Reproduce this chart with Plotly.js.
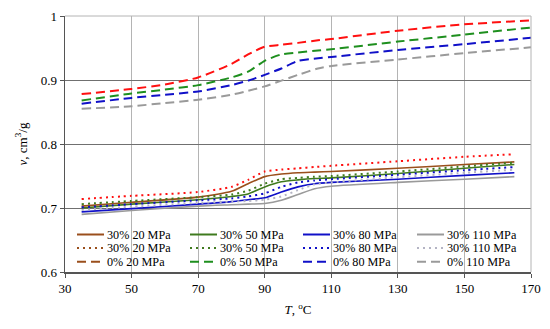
<!DOCTYPE html>
<html>
<head>
<meta charset="utf-8">
<script src="https://cdn.plot.ly/plotly-3.0.1.min.js"></script>
<style>html,body{margin:0;padding:0;background:#fff;}#chart{width:550px;height:329px;}</style>
</head>
<body>
<div id="chart"></div>
<script>
// ---- data ----
const T_low = [35, 50, 70, 80, 85, 90, 95, 100, 105, 110, 130, 150, 165];
const solid20  = [0.703, 0.709, 0.717, 0.726, 0.738, 0.749, 0.753, 0.755, 0.756, 0.757, 0.762, 0.768, 0.772];
const solid50  = [0.700, 0.706, 0.713, 0.718, 0.722, 0.733, 0.741, 0.744, 0.746, 0.747, 0.754, 0.762, 0.768];
const solid80  = [0.694, 0.699, 0.706, 0.710, 0.713, 0.716, 0.725, 0.733, 0.738, 0.740, 0.745, 0.751, 0.755];
const solid110 = [0.690, 0.696, 0.703, 0.705, 0.706, 0.707, 0.712, 0.721, 0.730, 0.734, 0.740, 0.745, 0.749];
const dot20    = [0.714, 0.719, 0.725, 0.733, 0.744, 0.757, 0.760, 0.762, 0.764, 0.766, 0.773, 0.780, 0.784];
const dot50    = [0.706, 0.711, 0.717, 0.721, 0.727, 0.738, 0.745, 0.747, 0.749, 0.750, 0.757, 0.765, 0.771];
const dot80    = [0.701, 0.706, 0.712, 0.715, 0.718, 0.723, 0.733, 0.740, 0.743, 0.745, 0.752, 0.759, 0.764];
const dot110   = [0.697, 0.702, 0.708, 0.710, 0.711, 0.713, 0.718, 0.728, 0.737, 0.740, 0.748, 0.755, 0.760];

const T_high = [35, 50, 60, 70, 80, 85, 90, 95, 100, 106, 110, 130, 150, 170];
const dash20  = [0.878, 0.886, 0.893, 0.904, 0.925, 0.940, 0.952, 0.955, 0.958, 0.962, 0.964, 0.977, 0.987, 0.993];
const dash50  = [0.868, 0.879, 0.885, 0.892, 0.904, 0.913, 0.930, 0.940, 0.943, 0.946, 0.948, 0.960, 0.971, 0.982];
const dash80  = [0.863, 0.872, 0.877, 0.882, 0.892, 0.899, 0.908, 0.918, 0.930, 0.934, 0.936, 0.947, 0.956, 0.966];
const dash110 = [0.855, 0.859, 0.864, 0.869, 0.877, 0.883, 0.890, 0.899, 0.908, 0.918, 0.922, 0.932, 0.942, 0.951];

const names = ['30% 20 MPa','30% 50 MPa','30% 80 MPa','30% 110 MPa',
               '30% 20 MPa','30% 50 MPa','30% 80 MPa','30% 110 MPa',
               '0% 20 MPa','0% 50 MPa','0% 80 MPa','0% 110 MPa'];

const brown = '#9a4f1c', green = '#3f7a1e', dgreen = '#1e8f1e', blue = '#1010c8', gray = '#9a9a9a', red = '#ff1010', lgray = '#b4b4c4';
const DASH = '9px,5px', DOT = '2px,4px';

// legend appearance (colour, dash) per entry, row-major
const legStyle = [
  [brown, 'solid'], [green, 'solid'], [blue, 'solid'], [gray, 'solid'],
  [brown, DOT], [green, DOT], [blue, DOT], [lgray, DOT],
  [brown, DASH], [dgreen, DASH], [blue, DASH], [gray, DASH]
];

function tr(x, y, name, color, dash, width) {
  return {x: x, y: y, name: name, type: 'scatter', mode: 'lines',
          line: {color: color, dash: dash, width: width, shape: 'spline', smoothing: 0.6},
          showlegend: false};
}

const data = [
  tr(T_low, solid110, names[3], gray, 'solid', 1.6),
  tr(T_low, solid80,  names[2], blue, 'solid', 1.6),
  tr(T_low, solid50,  names[1], green, 'solid', 1.6),
  tr(T_low, solid20,  names[0], brown, 'solid', 1.6),
  tr(T_low, dot110, names[7], lgray, DOT, 2),
  tr(T_low, dot80,  names[6], blue, DOT, 2),
  tr(T_low, dot50,  names[5], green, DOT, 2),
  tr(T_low, dot20,  names[4], red, DOT, 2),
  tr(T_high, dash110, names[11], gray, DASH, 2),
  tr(T_high, dash80,  names[10], blue, DASH, 2),
  tr(T_high, dash50,  names[9], dgreen, DASH, 2),
  tr(T_high, dash20,  names[8], red, DASH, 2)
];

const FAM = 'Liberation Serif, Times New Roman, serif';
const font = {family: FAM, size: 13, color: '#000'};
const legFont = {family: FAM, size: 12.2, color: '#000'};

// plot area geometry in pixels
const L = 65, R = 19, TOP = 16, B = 57, W = 550, H = 329;
const PW = W - L - R, PH = H - TOP - B;
const px = v => (v - L) / PW;
const py = v => (H - B - v) / PH;

const shapes = [
  {type: 'line', xref: 'paper', yref: 'paper', x0: 0, x1: 1, y0: 1, y1: 1, line: {color: '#b4b4b4', width: 1}},
  {type: 'line', xref: 'paper', yref: 'paper', x0: 1, x1: 1, y0: 0, y1: 1, line: {color: '#b4b4b4', width: 1}},
  {type: 'rect', xref: 'paper', yref: 'paper', x0: px(68), x1: px(530), y0: py(270), y1: py(225),
   fillcolor: '#fff', line: {width: 0}, layer: 'below'}
];
const annotations = [];
const colX = [77, 190, 303, 417];
const rowY = [234.5, 248.1, 261.7];
for (let i = 0; i < names.length; i++) {
  const c = i % 4, r = Math.floor(i / 4);
  shapes.push({type: 'line', xref: 'paper', yref: 'paper',
    x0: px(colX[c]), x1: px(colX[c] + 27), y0: py(rowY[r]), y1: py(rowY[r]),
    line: {color: legStyle[i][0], dash: legStyle[i][1], width: 2}});
  annotations.push({xref: 'paper', yref: 'paper', x: px(colX[c] + 30), y: py(rowY[r]),
    xanchor: 'left', yanchor: 'middle', showarrow: false, text: names[i], font: legFont,
    borderpad: 0, borderwidth: 0});
}

const layout = {
  width: W, height: H,
  margin: {l: L, r: R, t: TOP, b: B, pad: 0},
  paper_bgcolor: '#fff', plot_bgcolor: '#fff',
  font: font,
  showlegend: false,
  xaxis: {
    range: [30, 170], dtick: 20, tick0: 30,
    showgrid: true, gridcolor: '#b4b4b4', gridwidth: 1,
    zeroline: false, showline: true, linecolor: '#555', linewidth: 1.5,
    ticks: 'outside', ticklen: 4, tickcolor: '#555',
    tickfont: font,
    title: {text: '<i>T</i>, <sup>o</sup>C', font: font, standoff: 10}
  },
  yaxis: {
    range: [0.6, 1.0], dtick: 0.1, tick0: 0.6,
    showgrid: true, gridcolor: '#707070', gridwidth: 1,
    zeroline: false, showline: true, linecolor: '#555', linewidth: 1.5,
    ticks: 'outside', ticklen: 4, tickcolor: '#555',
    tickfont: font,
    title: {text: '<i>v</i>, cm<sup>3</sup>/g', font: font, standoff: 10}
  },
  shapes: shapes,
  annotations: annotations
};

Plotly.newPlot('chart', data, layout, {displayModeBar: false, staticPlot: true});
</script>
</body>
</html>
